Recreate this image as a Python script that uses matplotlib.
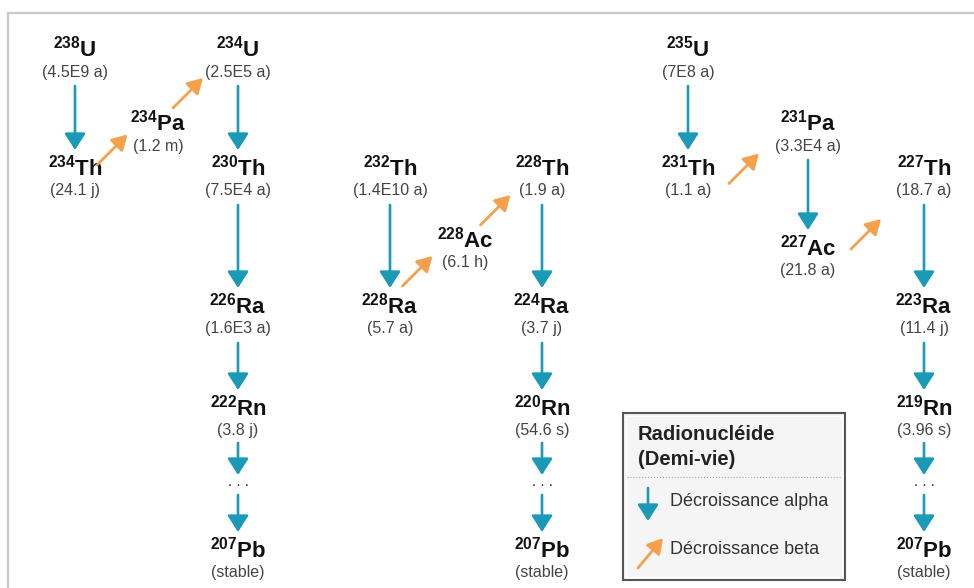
import matplotlib
matplotlib.use("Agg")
import matplotlib.pyplot as plt
from matplotlib.patches import Rectangle

plt.rcParams['font.family'] = ['Liberation Sans', 'DejaVu Sans']
plt.rcParams['mathtext.fontset'] = 'custom'
plt.rcParams['mathtext.rm'] = 'Liberation Sans'
plt.rcParams['mathtext.bf'] = 'Liberation Sans:bold'

# nuclides: mass number, symbol, half-life
mass = ['238', '234', '234', '234', '230', '226', '222', '207',
        '232', '228', '228', '228', '224', '220', '207',
        '235', '231', '231', '227', '227', '223', '219', '207']
symbol = ['U', 'Th', 'Pa', 'U', 'Th', 'Ra', 'Rn', 'Pb',
          'Th', 'Ra', 'Ac', 'Th', 'Ra', 'Rn', 'Pb',
          'U', 'Th', 'Pa', 'Ac', 'Th', 'Ra', 'Rn', 'Pb']
half_life = ['(4.5E9 a)', '(24.1 j)', '(1.2 m)', '(2.5E5 a)', '(7.5E4 a)', '(1.6E3 a)', '(3.8 j)', '(stable)',
             '(1.4E10 a)', '(5.7 a)', '(6.1 h)', '(1.9 a)', '(3.7 j)', '(54.6 s)', '(stable)',
             '(7E8 a)', '(1.1 a)', '(3.3E4 a)', '(21.8 a)', '(18.7 a)', '(11.4 j)', '(3.96 s)', '(stable)']

# decays between nuclides (index pairs)
alpha_decays = [(0, 1), (3, 4), (4, 5), (5, 6), (8, 9), (11, 12), (12, 13), (15, 16), (17, 18), (19, 20), (20, 21)]
beta_decays = [(1, 2), (2, 3), (9, 10), (10, 11), (16, 17), (18, 19)]
chain_ends = [(6, 7), (13, 14), (21, 22)]  # skipped steps shown as "..."

# layout (pixel coords of each label centre)
node_x = [75, 75, 158, 238, 238, 238, 238, 238,
          390, 390, 465, 542, 542, 542, 542,
          688, 688, 808, 808, 924, 924, 924, 924]
node_y = [49, 168, 123, 49, 168, 306, 408, 550,
          168, 306, 240, 168, 306, 408, 550,
          49, 168, 123, 248, 168, 306, 408, 550]
beta_nudge = [(-4, -8), (-10, -5), (-10, -14), (-8, -6), (-4, 11), (0, 14)]

TEAL = '#1a9ab6'
ORANGE = '#f6a04c'
HL_OFF = 23

fig = plt.figure(figsize=(9.74, 5.88), dpi=100)
ax = fig.add_axes([0, 0, 1, 1])
ax.set_xlim(0, 974)
ax.set_ylim(588, 0)
ax.axis('off')

# frame
ax.plot([8, 974], [13, 13], color='#c8c8c8', lw=1.6)
ax.plot([8, 8], [13, 588], color='#c8c8c8', lw=1.6)

for m, s, h, x, y in zip(mass, symbol, half_life, node_x, node_y):
    ax.text(x, y, r'$\mathbf{{}^{%s}%s}$' % (m, s), ha='center', va='center',
            fontsize=16, color='#111111')
    ax.text(x, y + HL_OFF, h, ha='center', va='center', fontsize=11.5, color='#444444')


def arrow(x0, y0, x1, y1, color, lw, hw, hl):
    ax.annotate('', xy=(x1, y1), xytext=(x0, y0),
                arrowprops=dict(arrowstyle='-|>,head_width=%g,head_length=%g' % (hw, hl),
                                mutation_scale=20, lw=lw, color=color,
                                shrinkA=0, shrinkB=0))


for a, b in alpha_decays:
    arrow(node_x[a], node_y[a] + HL_OFF + 14, node_x[b], node_y[b] - 18, TEAL, 1.9, 0.32, 0.5)

for (a, b), (nx, ny) in zip(beta_decays, beta_nudge):
    mx = (node_x[a] + node_x[b]) / 2 + nx
    my = (node_y[a] + node_y[b]) / 2 + 12 + ny
    arrow(mx - 15, my + 15, mx + 15, my - 15, ORANGE, 2.0, 0.26, 0.45)

for a, b in chain_ends:
    x = node_x[a]
    ydots = node_y[a] + HL_OFF + 52
    arrow(x, node_y[a] + HL_OFF + 12, x, ydots - 8, TEAL, 1.9, 0.32, 0.5)
    ax.text(x, ydots + 3, '. . .', ha='center', va='baseline', fontsize=11, color='#333333')
    arrow(x, ydots + 12, x, node_y[b] - 18, TEAL, 1.9, 0.32, 0.5)

# legend
ax.add_patch(Rectangle((623, 413), 222, 167, facecolor='#f5f5f5', edgecolor='#555555', lw=1.5))
ax.add_patch(Rectangle((626, 416), 216, 161, facecolor='none', edgecolor='#ffffff', lw=1.0))
ax.text(638, 447, 'Radionucléide\n(Demi-vie)', ha='left', va='center', fontsize=14.5,
        fontweight='bold', color='#222222', linespacing=1.35)
ax.plot([627, 841], [477, 477], color='#aaaaaa', lw=0.8, ls=':')
arrow(648, 488, 648, 521, TEAL, 1.9, 0.32, 0.5)
ax.text(670, 502, 'Décroissance alpha', ha='left', va='center', fontsize=13, color='#333333')
arrow(638, 568, 663, 538, ORANGE, 2.0, 0.26, 0.45)
ax.text(670, 550, 'Décroissance beta', ha='left', va='center', fontsize=13, color='#333333')

fig.savefig('out.png', dpi=100)
